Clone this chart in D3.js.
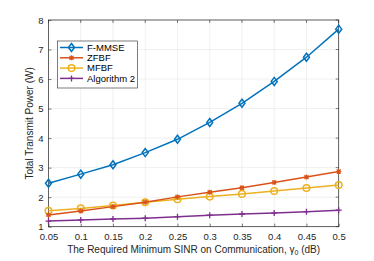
<!DOCTYPE html>
<html>
<head>
<meta charset="utf-8">
<script src="https://cdn.jsdelivr.net/npm/d3@7"></script>
<style>
  body { margin: 0; background: #fff; }
  svg { font-family: "Liberation Sans", Arial, sans-serif; }
</style>
</head>
<body>
<svg id="chart" width="374" height="261"></svg>
<script>
// data
const sinr = [0.05, 0.1, 0.15, 0.2, 0.25, 0.3, 0.35, 0.4, 0.45, 0.5];
const fmmse = [2.47, 2.78, 3.10, 3.51, 3.96, 4.53, 5.18, 5.92, 6.74, 7.69];
const zfbf = [1.40, 1.53, 1.68, 1.83, 2.01, 2.17, 2.32, 2.50, 2.68, 2.87];
const mfbf = [1.54, 1.62, 1.72, 1.83, 1.93, 2.02, 2.11, 2.21, 2.31, 2.41];
const alg2 = [1.19, 1.23, 1.26, 1.29, 1.34, 1.39, 1.43, 1.46, 1.51, 1.56];
const yTicks = [1, 2, 3, 4, 5, 6, 7, 8];
const seriesNames = ["F-MMSE", "ZFBF", "MFBF", "Algorithm 2"];

const series = [
  { name: seriesNames[0], values: fmmse, color: "#0072BD", marker: "diamond" },
  { name: seriesNames[1], values: zfbf, color: "#D95319", marker: "asterisk" },
  { name: seriesNames[2], values: mfbf, color: "#EDB120", marker: "circle" },
  { name: seriesNames[3], values: alg2, color: "#7E2F8E", marker: "plus" }
];

const svg = d3.select("#chart");
const pl = 48.5, pr = 338.7, pt = 20, pb = 226.7;

const x = d3.scaleLinear().domain([0.05, 0.5]).range([pl, pr]);
const y = d3.scaleLinear().domain([1, 8]).range([pb, pt]);

// grid
const grid = svg.append("g").attr("stroke", "#e6e6e6").attr("stroke-width", 0.6);
sinr.forEach(v => {
  grid.append("line").attr("x1", x(v)).attr("x2", x(v)).attr("y1", pt).attr("y2", pb);
});
yTicks.forEach(v => {
  grid.append("line").attr("x1", pl).attr("x2", pr).attr("y1", y(v)).attr("y2", y(v));
});

// axes, ticks inward
const xAxis = d3.axisBottom(x).tickValues(sinr).tickSizeInner(-3).tickSizeOuter(0).tickPadding(7)
  .tickFormat(d => String(+d.toFixed(2)));
const yAxis = d3.axisLeft(y).tickValues(yTicks).tickSizeInner(-3).tickSizeOuter(0).tickPadding(5)
  .tickFormat(d3.format("d"));

const gx = svg.append("g").attr("transform", `translate(0,${pb})`).call(xAxis);
const gy = svg.append("g").attr("transform", `translate(${pl},0)`).call(yAxis);
[gx, gy].forEach(g => {
  g.select(".domain").remove();
  g.selectAll("line").attr("stroke", "#262626").attr("stroke-width", 0.6);
  g.selectAll("text").attr("fill", "#262626").style("font-size", "9.5px");
});

// top/right ticks
yTicks.forEach(v => {
  svg.append("line").attr("x1", pr).attr("x2", pr - 3).attr("y1", y(v)).attr("y2", y(v))
    .attr("stroke", "#262626").attr("stroke-width", 0.6);
});
sinr.forEach(v => {
  svg.append("line").attr("x1", x(v)).attr("x2", x(v)).attr("y1", pt).attr("y2", pt + 3)
    .attr("stroke", "#262626").attr("stroke-width", 0.6);
});

// box
svg.append("rect").attr("x", pl).attr("y", pt).attr("width", pr - pl).attr("height", pb - pt)
  .attr("fill", "none").attr("stroke", "#262626").attr("stroke-width", 0.7);

function drawMarker(g, type, cx, cy, color) {
  if (type === "diamond") {
    g.append("path").attr("d", `M${cx},${cy - 4}L${cx + 3},${cy}L${cx},${cy + 4}L${cx - 3},${cy}Z`)
      .attr("fill", "none").attr("stroke", color).attr("stroke-width", 1.5);
  } else if (type === "circle") {
    g.append("circle").attr("cx", cx).attr("cy", cy).attr("r", 3.3)
      .attr("fill", "none").attr("stroke", color).attr("stroke-width", 1.5);
  } else if (type === "plus") {
    g.append("path").attr("d", `M${cx - 3},${cy}H${cx + 3}M${cx},${cy - 3}V${cy + 3}`)
      .attr("stroke", color).attr("stroke-width", 1.3);
  } else if (type === "asterisk") {
    g.append("path").attr("d", `M${cx - 2.5},${cy}H${cx + 2.5}M${cx},${cy - 2.5}V${cy + 2.5}` +
      `M${cx - 2},${cy - 2}L${cx + 2},${cy + 2}M${cx - 2},${cy + 2}L${cx + 2},${cy - 2}`)
      .attr("stroke", color).attr("stroke-width", 1.2);
  }
}

const line = d3.line().x((d, i) => x(sinr[i])).y(d => y(d));

// draw in reverse so F-MMSE is on top
series.slice().reverse().forEach(s => {
  const g = svg.append("g");
  g.append("path").datum(s.values).attr("d", line)
    .attr("fill", "none").attr("stroke", s.color).attr("stroke-width", 1.5);
  s.values.forEach((v, i) => drawMarker(g, s.marker, x(sinr[i]), y(v), s.color));
});

// legend
const lg = svg.append("g");
lg.append("rect").attr("x", 57.5).attr("y", 41).attr("width", 80).attr("height", 47)
  .attr("fill", "#fff").attr("stroke", "#262626").attr("stroke-width", 0.6);
series.forEach((s, i) => {
  const ly = 47.5 + i * 10.3;
  lg.append("line").attr("x1", 60).attr("x2", 83).attr("y1", ly).attr("y2", ly)
    .attr("stroke", s.color).attr("stroke-width", 1.5);
  drawMarker(lg, s.marker, 71.5, ly, s.color);
  lg.append("text").attr("x", 87).attr("y", ly + 3.3).text(s.name)
    .style("font-size", "9.5px").attr("fill", "#000");
});

// axis labels
svg.append("text").attr("transform", `translate(33,${(pt + pb) / 2}) rotate(-90)`)
  .attr("text-anchor", "middle").style("font-size", "10px").attr("fill", "#262626")
  .text("Total Transmit Power (W)");

const xl = svg.append("text").attr("x", (pl + pr) / 2).attr("y", 252.5)
  .attr("text-anchor", "middle").style("font-size", "10px").attr("fill", "#262626");
xl.append("tspan").text("The Required Minimum SINR on Communication, ");
xl.append("tspan").text("γ");
xl.append("tspan").attr("dy", 2.5).style("font-size", "7px").text("0");
xl.append("tspan").attr("dy", -2.5).text(" (dB)");
</script>
</body>
</html>
